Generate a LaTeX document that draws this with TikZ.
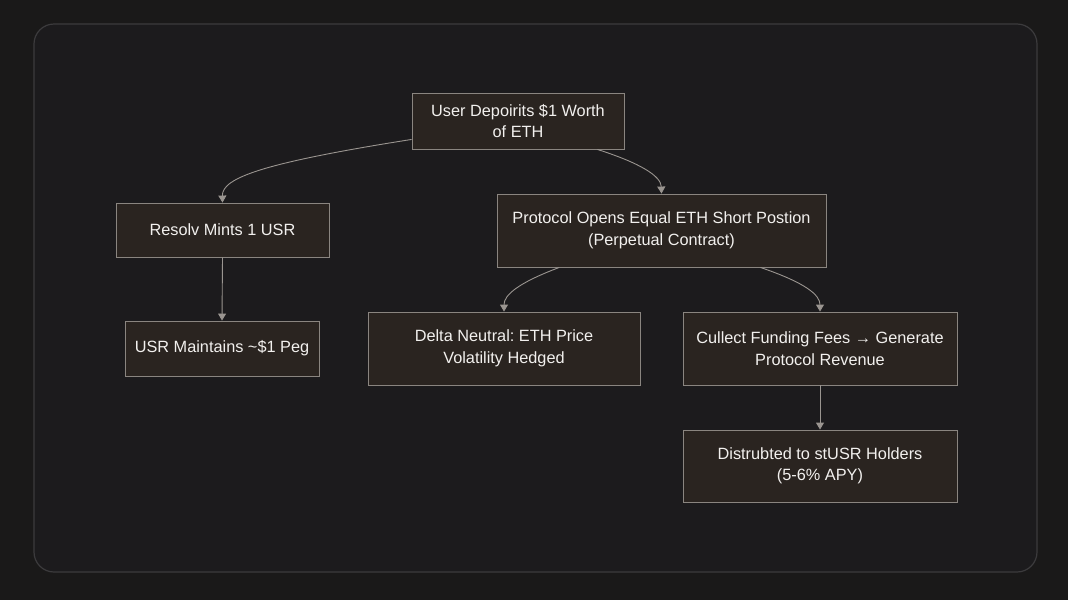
\documentclass[tikz,border=0pt]{standalone}
\usepackage{fontspec}
\setmainfont{Liberation Sans}
\frenchspacing
\usetikzlibrary{calc,arrows.meta}
\definecolor{bgc}{HTML}{1A1919}
\definecolor{panelc}{HTML}{1C1B1D}
\definecolor{panelline}{HTML}{3C3B3D}
\definecolor{boxfill}{HTML}{2A2420}
\definecolor{boxline}{HTML}{8A8580}
\definecolor{linkc}{HTML}{9A9590}
\definecolor{txtc}{HTML}{F2F0EE}
\tikzset{
  flowbox/.style={draw=boxline, fill=boxfill, line width=0.9pt, text=txtc, align=center,
    inner sep=0pt, font=\fontsize{16.3}{21.5}\selectfont},
  link/.style={draw=linkc, line width=0.9pt, -{Triangle[length=7pt,width=8pt]}}
}
\begin{document}
\begin{tikzpicture}[x=1pt,y=-1pt]
\useasboundingbox (0,0) rectangle (1068,600);
\fill[bgc] (0,0) rectangle (1068,600);
\draw[panelline, fill=panelc, line width=1.2pt, rounded corners=20pt] (34,24) rectangle (1037,572);

\node[flowbox, minimum width=212pt, minimum height=56pt] (A) at (518,121) {User Depoirits \$1 Worth\\of ETH};
\node[flowbox, minimum width=213pt, minimum height=54pt] (B) at (222.5,230) {Resolv Mints 1 USR};
\node[flowbox, minimum width=329pt, minimum height=73pt] (C) at (661.5,230.5) {Protocol Opens Equal ETH Short Postion\\(Perpetual Contract)};
\node[flowbox, minimum width=194pt, minimum height=55pt] (D) at (222,348.5) {USR Maintains \textasciitilde\$1 Peg};
\node[flowbox, minimum width=272pt, minimum height=73pt] (E) at (504,348.5) {Delta Neutral: ETH Price\\Volatility Hedged};
\node[flowbox, minimum width=274pt, minimum height=73pt] (F) at (820,348.5) {Cullect Funding Fees \textrightarrow{} Generate\\Protocol Revenue};
\node[flowbox, minimum width=274pt, minimum height=72pt] (G) at (820,466) {Distrubted to stUSR Holders\\(5-6\% APY)};

\draw[link] ($(A.south west)+(0,-10)$) .. controls (262,163) and (222,178) .. (B.north);
\draw[link] ($(A.south west)!0.873!(A.south east)$) .. controls (640,163) and (661,176) .. (C.north);
\draw[link] (B.south) -- (D.north);
\draw[link] ($(C.south west)!0.19!(C.south east)$) .. controls (518,283) and (504,295) .. (E.north);
\draw[link] ($(C.south west)!0.80!(C.south east)$) .. controls (806,283) and (820,295) .. (F.north);
\draw[link] (F.south) -- (G.north);
\end{tikzpicture}
\end{document}
